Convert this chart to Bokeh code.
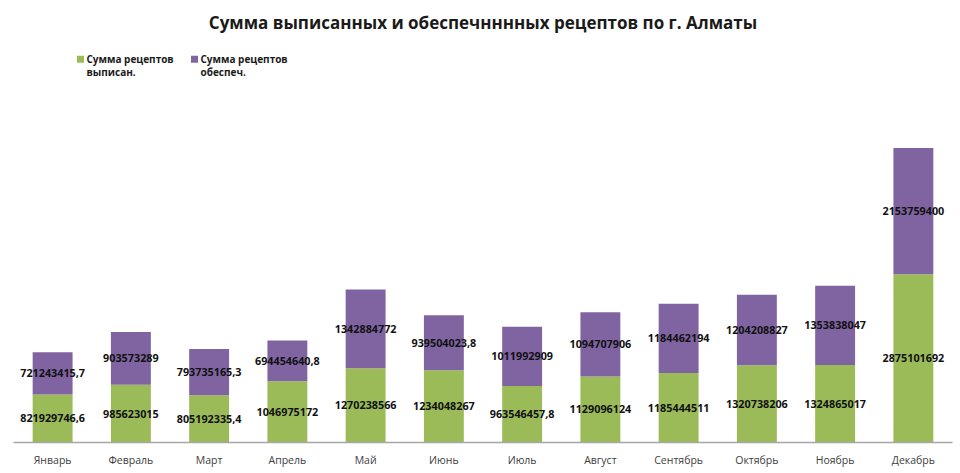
from bokeh.plotting import figure
from bokeh.models import Range1d, FixedTicker, ColumnDataSource, Label
from bokeh.core.properties import value
from bokeh.embed import file_html
from bokeh.resources import INLINE

months = ["Январь", "Февраль", "Март", "Апрель", "Май", "Июнь", "Июль",
          "Август", "Сентябрь", "Октябрь", "Ноябрь", "Декабрь"]
issued = [821929746.6, 985623015, 805192335.4, 1046975172, 1270238566, 1234048267,
          963546457.8, 1129096124, 1185444511, 1320738206, 1324865017, 2875101692]
provided = [721243415.7, 903573289, 793735165.3, 694454640.8, 1342884772, 939504023.8,
            1011992909, 1094707906, 1184462194, 1204208827, 1353838047, 2153759400]
series_names = ["Сумма рецептов\nвыписан.", "Сумма рецептов\nобеспеч."]
title_text = "Сумма выписанных и обеспечнннных рецептов по г. Алматы"

GREEN = "#9bbb59"
PURPLE = "#8064a2"
FONT = "Open Sans"

def fmt(v):
    if float(v).is_integer():
        return str(int(v))
    return f"{v:.1f}".replace(".", ",")

x = list(range(len(months)))
tops = [a + b for a, b in zip(issued, provided)]
src = ColumnDataSource(dict(
    x=x, issued=issued, provided=provided, tops=tops,
    zero=[0] * len(x),
    mid1=[a / 2 for a in issued],
    mid2=[a + b / 2 for a, b in zip(issued, provided)],
    lab1=[fmt(v) for v in issued],
    lab2=[fmt(v) for v in provided],
))

W, H = 960, 469
B_LEFT, B_RIGHT, B_TOP, B_BOTTOM = 13, 8, 0, 26
YMAX = 7.55e9
frame_h = H - B_TOP - B_BOTTOM
frame_w = W - B_LEFT - B_RIGHT

def y_at(page_y):
    return (B_TOP + frame_h - page_y) / frame_h * YMAX

def x_at(page_x):
    return (page_x - B_LEFT) / frame_w * 12 - 0.5

p = figure(width=W, height=H, output_backend="svg", toolbar_location=None,
           x_range=Range1d(-0.5, 11.5), y_range=Range1d(0, YMAX),
           min_border_left=B_LEFT, min_border_right=B_RIGHT,
           min_border_top=B_TOP, min_border_bottom=B_BOTTOM)
p.outline_line_color = None
p.background_fill_color = "white"
p.border_fill_color = "white"
p.grid.visible = False
p.yaxis.visible = False

p.vbar(x="x", bottom="zero", top="issued", width=0.51, source=src,
       fill_color=GREEN, line_color=None)
p.vbar(x="x", bottom="issued", top="tops", width=0.51, source=src,
       fill_color=PURPLE, line_color=None)

for ycol, tcol in (("mid1", "lab1"), ("mid2", "lab2")):
    p.text(x="x", y=ycol, text=tcol, source=src, text_align="center",
           text_baseline="middle", text_font=value(FONT), text_font_style="bold",
           text_font_size="10.8px", text_color="#111111")

ax = p.xaxis[0]
ax.ticker = FixedTicker(ticks=x)
ax.major_label_overrides = {i: m for i, m in enumerate(months)}
ax.major_tick_line_color = None
ax.minor_tick_line_color = None
ax.major_tick_out = 0
ax.major_tick_in = 0
ax.minor_tick_out = 0
ax.axis_line_color = "#a6a6a6"
ax.axis_line_width = 1.5
ax.major_label_text_font = FONT
ax.major_label_text_font_size = "10.5px"
ax.major_label_text_color = "#404040"
ax.major_label_standoff = 10

p.add_layout(Label(x=5.5, y=y_at(22), text=title_text, text_align="center",
                   text_baseline="middle", text_font=FONT, text_font_style="bold",
                   text_font_size="17px", text_color="#1a1a1a"))

# legend
for i, (name, col) in enumerate(zip(series_names, [GREEN, PURPLE])):
    sx = [80, 194][i]
    tx = [86, 200][i]
    p.rect(x=[x_at(sx)], y=[y_at(59)], width=7, height=7, width_units="screen",
           height_units="screen", fill_color=col, line_color=None)
    for j, line in enumerate(name.split("\n")):
        p.add_layout(Label(x=x_at(tx), y=y_at(59 + 13 * j), text=line,
                           text_align="left", text_baseline="middle",
                           text_font=FONT, text_font_style="bold",
                           text_font_size="10px", text_color="#1a1a1a"))

open("out.html", "w").write(file_html(p, INLINE))
